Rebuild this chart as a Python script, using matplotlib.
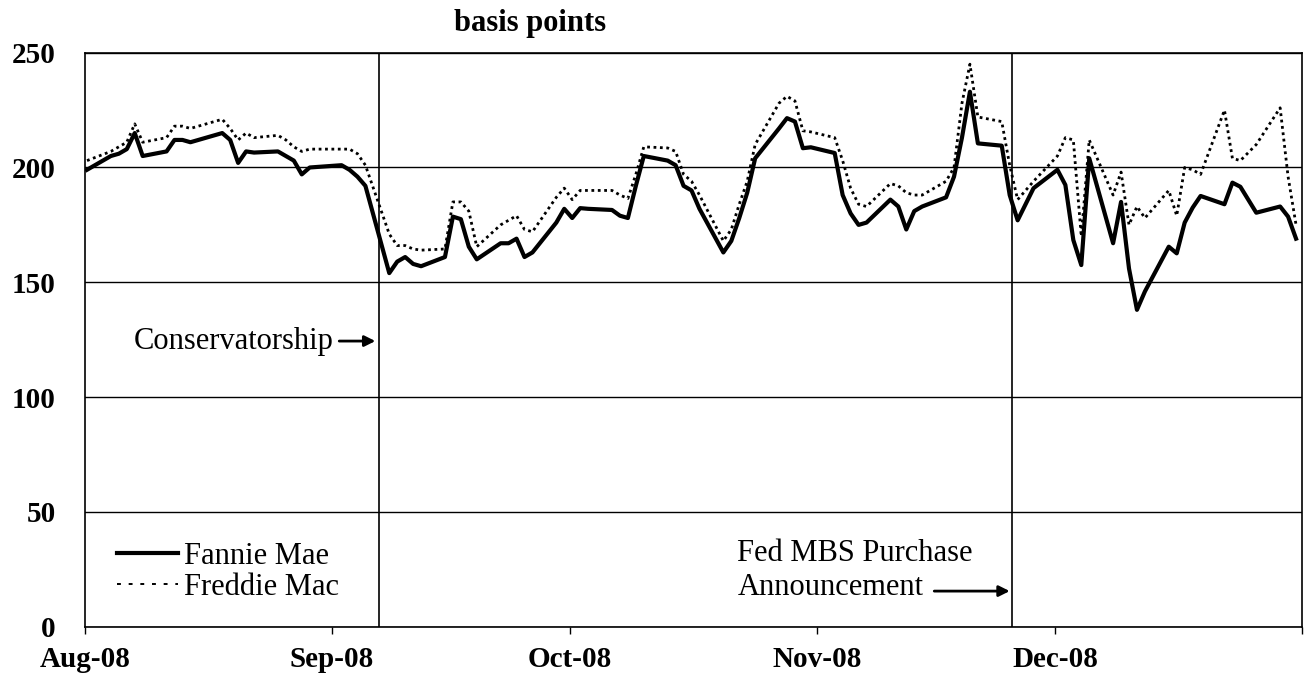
import matplotlib
matplotlib.use('Agg')
import matplotlib.pyplot as plt
from matplotlib.lines import Line2D
import pandas as pd

plt.rcParams['font.family'] = ['Liberation Serif', 'DejaVu Serif']

# trading days, Aug-Dec 2008
holidays = ['2008-09-01', '2008-11-27', '2008-12-25']
days = pd.bdate_range('2008-08-01', '2008-12-31').drop(pd.to_datetime(holidays))

# spreads, basis points
fannie_aug = [199, 205, 206, 208, 215, 205, 207, 212, 212, 211, 212,
              215, 212, 202, 207, 206.5, 207, 205, 203, 197, 200]
fannie_sep = [201, 199, 196, 192, 154, 159, 161, 158, 157, 161, 178.6,
              177.5, 165.5, 160, 167, 167, 169, 161, 163, 176, 182]
fannie_oct = [178, 182.3, 182, 181.5, 179, 178, 192, 205, 203, 201, 192,
              190, 182, 163, 168, 178, 189, 204, 217, 221.5, 220, 208.4, 208.8]
fannie_nov = [206.3, 188, 180, 175, 176, 186, 183, 173, 181, 183, 187,
              196, 213, 233, 210.5, 209.5, 188, 177, 191]
fannie_dec = [199, 192.4, 168.4, 157.5, 204, 167, 185, 156, 138, 146, 165.5,
              162.6, 176, 182.5, 187.6, 184, 193.4, 191.6, 180.3, 183, 178.6, 169]

freddie_aug = [203, 207, 209, 211, 219, 211, 213, 218, 218, 217, 218,
               221, 217, 212, 215, 213, 214, 212, 209, 207, 208]
freddie_sep = [208, 208, 206, 201, 171, 166, 166, 164.5, 164, 164.5, 185,
               185, 181, 165.5, 175, 177, 179, 173, 172, 187, 191]
freddie_oct = [186, 190, 190, 190, 188, 186.5, 197, 209, 208.5, 207, 197,
               194, 188, 168, 173, 184, 194, 210, 228, 231, 229, 216, 215.5]
freddie_nov = [213, 203, 191, 184, 183, 193, 192, 189, 188, 188, 194,
               200, 228, 245, 222, 220, 201, 186, 194]
freddie_dec = [205, 213, 212, 170, 212, 188, 198, 175, 183, 178, 190,
               179, 200, 199, 197, 225, 204, 203, 210, 226, 196, 175]

fannie = fannie_aug + fannie_sep + fannie_oct + fannie_nov + fannie_dec
freddie = freddie_aug + freddie_sep + freddie_oct + freddie_nov + freddie_dec

month_ticks = pd.to_datetime(['2008-08-01', '2008-09-01', '2008-10-01',
                              '2008-11-01', '2008-12-01', '2009-01-01'])
month_labels = ['Aug-08', 'Sep-08', 'Oct-08', 'Nov-08', 'Dec-08', '']

conservatorship = pd.Timestamp('2008-09-07')
fed_mbs = pd.Timestamp('2008-11-25 12:00')

x = days + pd.Timedelta(hours=6)

fig = plt.figure(figsize=(13.1, 6.87), dpi=100)
ax = fig.add_axes([0.0649, 0.0878, 0.9290, 0.8355])

ax.plot(x, fannie, color='black', lw=3.0)
ax.plot(x, freddie, color='black', lw=2.0, linestyle=(0, (1, 1.3)))

ax.axvline(conservatorship, color='black', lw=1.2)
ax.axvline(fed_mbs, color='black', lw=1.2)

ax.set_xlim(month_ticks[0], month_ticks[-1])
ax.set_ylim(0, 250)
ax.set_yticks(range(0, 251, 50))
ax.yaxis.grid(True, color='black', lw=1.0)
ax.set_axisbelow(True)

ax.set_xticks(month_ticks)
ax.set_xticklabels(month_labels)
for lab in ax.get_xticklabels() + ax.get_yticklabels():
    lab.set_fontweight('bold')
    lab.set_fontsize(21)
ax.tick_params(axis='x', direction='out', length=5, width=1, pad=9)
ax.tick_params(axis='y', length=0, pad=21)
for sp in ax.spines.values():
    sp.set_linewidth(1.2)
    sp.set_color('black')

handles = [Line2D([], [], color='black', lw=3.0),
           Line2D([], [], color='black', lw=1.4, linestyle=(0, (2, 4)))]
ax.legend(handles, ['Fannie Mae', 'Freddie Mac'], loc='upper left',
          bbox_to_anchor=(0.026, 0.148), frameon=False, fontsize=22,
          handlelength=2.0, handletextpad=0.2, labelspacing=0.08,
          borderaxespad=0, borderpad=0)

arrow = dict(arrowstyle='-|>', color='black', lw=2, mutation_scale=16,
             shrinkA=2, shrinkB=0)
ax.annotate('Conservatorship', xy=(pd.Timestamp('2008-09-06 12:00'), 124.4),
            xytext=(-30, 0), textcoords='offset points', ha='right',
            va='center', fontsize=22, arrowprops=arrow)

ax.text(pd.Timestamp('2008-10-22'), 24.5, 'Fed MBS Purchase\nAnnouncement',
        ha='left', va='center', fontsize=22, linespacing=1.2)
ax.annotate('', xy=(fed_mbs - pd.Timedelta(hours=6), 15.5),
            xytext=(pd.Timestamp('2008-11-15 10:00'), 15.5), arrowprops=arrow)

fig.text(0.405, 0.966, 'basis points', ha='center', va='center',
         fontweight='bold', fontsize=22)

fig.savefig('out.png', dpi=100)
